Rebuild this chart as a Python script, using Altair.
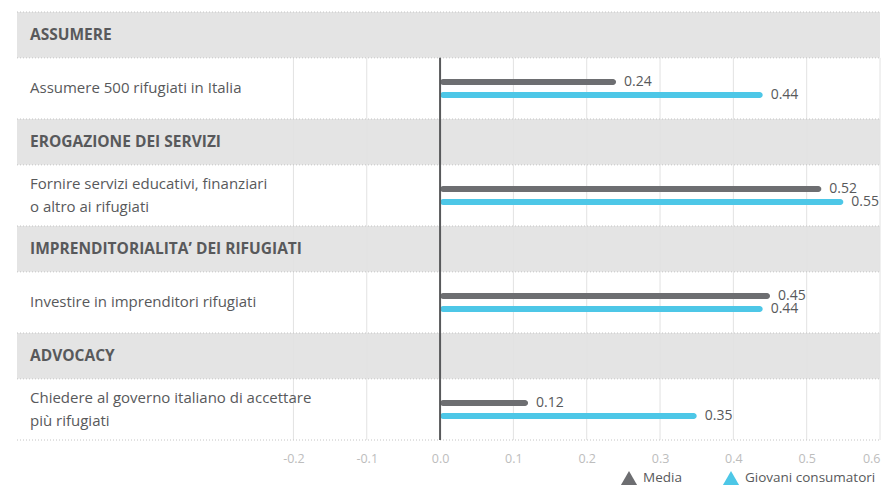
import altair as alt
import pandas as pd

# ---- data ----
categories = ["ASSUMERE", "EROGAZIONE DEI SERVIZI",
              "IMPRENDITORIALITA’ DEI RIFUGIATI", "ADVOCACY"]
items = ["Assumere 500 rifugiati in Italia",
         "Fornire servizi educativi, finanziari\no altro ai rifugiati",
         "Investire in imprenditori rifugiati",
         "Chiedere al governo italiano di accettare\npiù rifugiati"]
series = ["Media", "Giovani consumatori"]
media = [0.24, 0.52, 0.45, 0.12]
giovani = [0.44, 0.55, 0.44, 0.35]
tick_values = [-0.2, -0.1, 0.0, 0.1, 0.2, 0.3, 0.4, 0.5, 0.6]

# ---- layout units (y scale): each group = header band + item row ----
BAND = 0.75
ROW = 1.0
GROUP = BAND + ROW
N = len(categories)
YMAX = GROUP * N
XMIN, XMAX = -0.577, 0.6
OFF = 0.106

bands = pd.DataFrame({
    "cat": categories,
    "y0": [i * GROUP for i in range(N)],
    "y1": [i * GROUP + BAND for i in range(N)],
    "yc": [i * GROUP + BAND / 2 for i in range(N)],
})
rows = pd.DataFrame({
    "item": items,
    "n": [t.count("\n") + 1 for t in items],
    "yc": [i * GROUP + BAND + ROW / 2 for i in range(N)],
})
bars_rows = []
for i in range(N):
    c = i * GROUP + BAND + ROW / 2
    bars_rows.append({"series": series[0], "value": media[i], "y": c - OFF})
    bars_rows.append({"series": series[1], "value": giovani[i], "y": c + OFF})
bars_df = pd.DataFrame(bars_rows)
sep_df = pd.DataFrame({"y": sorted(set([i * GROUP for i in range(N)] +
                                       [i * GROUP + BAND for i in range(N)] + [YMAX]))})
grid_df = pd.DataFrame({"t": tick_values, "y0": BAND, "y1": YMAX})

FONT = "Open Sans"
TXT = "#58595b"
GRAY = "#6d6e71"
BLUE = "#4dc7e7"
W, H = 863, 428

xs = alt.Scale(domain=[XMIN, XMAX], nice=False, zero=False, padding=0)
ys = alt.Scale(domain=[0, YMAX], nice=False, zero=False, reverse=True, padding=0)

x_axis = alt.Axis(values=tick_values, grid=False, ticks=False,
                  domain=False, labelColor="#bdbdbd", labelFontSize=12.5,
                  labelPadding=12, labelFont=FONT, title=None,
                  labelFlush=True,
                  labelExpr="replace(format(datum.value, '.1f'), '\u2212', '-')")

band_layer = alt.Chart(bands).mark_rect(color="#e4e4e4").encode(
    x=alt.value(0), x2=alt.value(W),
    y=alt.Y("y0:Q", scale=ys, axis=None), y2="y1:Q")

grid_layer = alt.Chart(grid_df).mark_rule(color="#e2e2e2", strokeWidth=1).encode(
    x=alt.X("t:Q", scale=xs, axis=x_axis),
    y=alt.Y("y0:Q", scale=ys, axis=None), y2="y1:Q")

sep_layer = alt.Chart(sep_df).mark_rule(color="#c4c4c4", strokeWidth=1,
                                        strokeDash=[1, 2]).encode(
    x=alt.value(0), x2=alt.value(W),
    y=alt.Y("y:Q", scale=ys, axis=None))

zero_layer = alt.Chart(grid_df[grid_df.t == 0.0]).mark_rule(
    color="#58595b", strokeWidth=2).encode(
    x=alt.X("t:Q", scale=xs),
    y=alt.Y("y0:Q", scale=ys), y2="y1:Q")

band_text = alt.Chart(bands).mark_text(
    align="left", baseline="middle", font=FONT, fontSize=15.5,
    fontWeight="bold", color=TXT).encode(
    x=alt.value(13), y=alt.Y("yc:Q", scale=ys), text="cat:N")

row_text1 = alt.Chart(rows).transform_filter("datum.n == 1").mark_text(
    align="left", baseline="middle", font=FONT, fontSize=15,
    color=TXT).encode(
    x=alt.value(13), y=alt.Y("yc:Q", scale=ys), text="item:N")

row_text2 = alt.Chart(rows).transform_filter("datum.n == 2").mark_text(
    align="left", baseline="middle", font=FONT, fontSize=15,
    color=TXT, lineBreak="\n", lineHeight=23, dy=-11.5).encode(
    x=alt.value(13), y=alt.Y("yc:Q", scale=ys), text="item:N")

bar_layer = alt.Chart(bars_df).mark_bar(height=6, cornerRadius=3).encode(
    x=alt.X("value:Q", scale=xs), x2=alt.datum(0),
    y=alt.Y("y:Q", scale=ys),
    color=alt.Color("series:N",
                    scale=alt.Scale(domain=series, range=[GRAY, BLUE]),
                    sort=series,
                    legend=alt.Legend(orient="none", legendX=603, legendY=457,
                                      direction="horizontal", title=None,
                                      symbolType="triangle-up", symbolSize=260,
                                      labelFontSize=13.5, labelColor=TXT,
                                      labelFont=FONT, columnPadding=40,
                                      symbolOffset=0, labelOffset=5,
                                      labelLimit=200, padding=0)))

val_layer = alt.Chart(bars_df).mark_text(
    align="left", baseline="middle", dx=8, font=FONT, fontSize=14,
    color=TXT).encode(
    x=alt.X("value:Q", scale=xs), y=alt.Y("y:Q", scale=ys),
    text=alt.Text("value:Q", format=".2f"))

chart = alt.layer(band_layer, grid_layer, sep_layer, bar_layer, zero_layer,
                  band_text, row_text1, row_text2, val_layer).properties(
    width=W, height=H,
    autosize=alt.AutoSizeParams(type="none"),
    padding={"left": 9, "top": 4, "right": 4, "bottom": 45},
).configure_view(stroke=None)

chart.save("out.html", embed_options={"renderer": "svg", "actions": False})
